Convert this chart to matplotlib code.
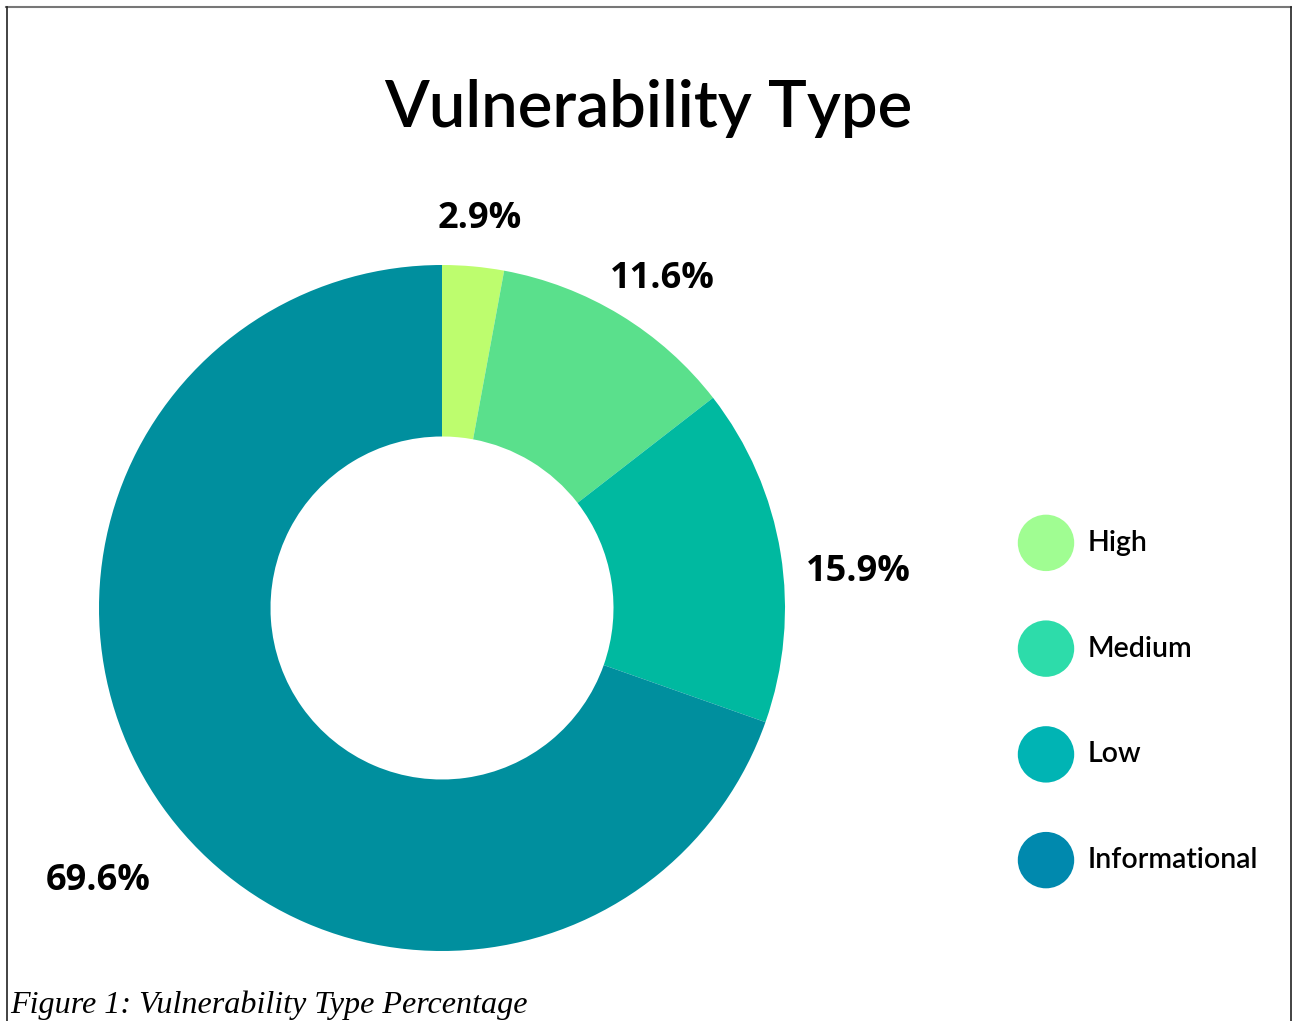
import matplotlib
matplotlib.use("Agg")
import matplotlib.pyplot as plt
import numpy as np
from matplotlib.lines import Line2D

categories = ["High", "Medium", "Low", "Informational"]
values = [2.9, 11.6, 15.9, 69.6]
pct_labels = ["2.9%", "11.6%", "15.9%", "69.6%"]
slice_colors = ["#bdfd6e", "#5ae08c", "#00b9a0", "#008f9e"]
legend_colors = ["#a0fd92", "#2ddcaa", "#00b4b4", "#0089ae"]
label_dist = [1.155, 1.166, 1.219, 1.271]
label_angle_shift = [-0.3, -2.1, -3.6, 2.6]

W, H = 1292, 1021
fig = plt.figure(figsize=(W / 100, H / 100), dpi=100)

def px(x, y, w, h):
    return [x / W, (H - y - h) / H, w / W, h / H]

# donut
cx, cy, R = 442, 608, 343
ax = fig.add_axes(px(cx - R, cy - R, 2 * R, 2 * R))
wedges, _ = ax.pie(values, colors=slice_colors, startangle=90, counterclock=False,
                   radius=1.0, wedgeprops=dict(width=0.5, linewidth=0))
ax.set_xlim(-1, 1)
ax.set_ylim(-1, 1)
ax.set_aspect("equal")
ax.axis("off")
for w, lab, d, da in zip(wedges, pct_labels, label_dist, label_angle_shift):
    ang = np.deg2rad((w.theta1 + w.theta2) / 2 + da)
    ax.text(d * np.cos(ang), d * np.sin(ang) - 0.015, lab, ha="center", va="center",
            fontsize=26, fontweight="bold", family="Open Sans", clip_on=False)

# title
fig.text(648 / W, 1 - 108 / H, "Vulnerability Type", ha="center", va="center",
         fontsize=47, family="Lato", fontweight="semibold")

# legend
lax = fig.add_axes(px(1010, 490, 282, 423))
lax.set_xlim(0, 282)
lax.set_ylim(len(categories) - 0.5, -0.5)
lax.axis("off")
idx = np.arange(len(categories))
lax.scatter(np.full(len(categories), 36), idx, s=1650, c=legend_colors, linewidths=0)
for i, c in enumerate(categories):
    lax.text(78, i, c, ha="left", va="center", fontsize=20.5, family="Lato",
             fontweight="semibold")

# caption
fig.text(10 / W, (H - 1013) / H, "Figure 1: Vulnerability Type Percentage",
         ha="left", va="baseline", fontsize=23.1, family="Liberation Serif",
         style="italic")

# frame lines
fig.add_artist(Line2D([6 / W, 1291 / W], [1 - 7 / H, 1 - 7 / H], color="#777777", lw=1.5))
fig.add_artist(Line2D([6.5 / W, 6.5 / W], [0, 1 - 7 / H], color="#222222", lw=1.2))
fig.add_artist(Line2D([1291 / W, 1291 / W], [0, 1 - 7 / H], color="#222222", lw=1.2))

fig.savefig("out.png", dpi=100)
